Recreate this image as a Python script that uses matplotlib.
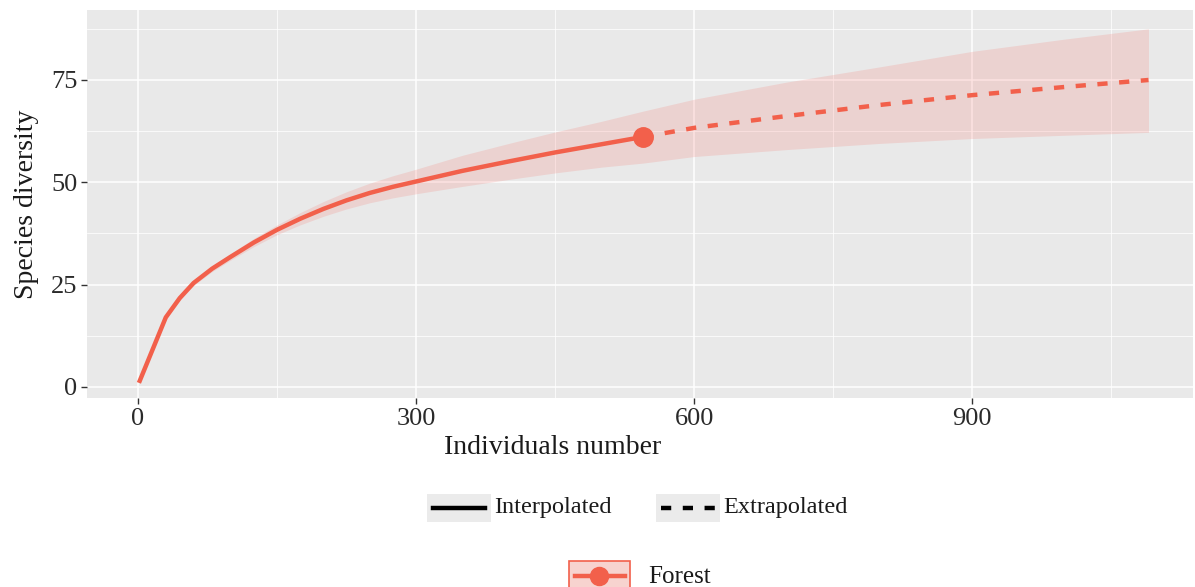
import matplotlib
matplotlib.use("Agg")
import matplotlib.pyplot as plt
from matplotlib.patches import Rectangle
from matplotlib.lines import Line2D

plt.rcParams['font.family'] = ['Liberation Serif', 'DejaVu Serif']

# ---- data ----
interp_x = [1, 30, 45, 60, 80, 100, 125, 150, 175, 200, 225, 250, 275, 300,
            350, 400, 450, 500, 545]
interp_y = [1, 17, 21.7, 25.4, 28.9, 31.8, 35.3, 38.4, 41.1, 43.5, 45.6, 47.4,
            48.9, 50.2, 52.8, 55.1, 57.3, 59.3, 61.1]
interp_lo = [1, 16.6, 21.2, 24.8, 28.2, 31.0, 34.3, 37.2, 39.6, 41.7, 43.5, 45.0,
             46.2, 47.2, 49.0, 50.7, 52.3, 53.7, 54.7]
interp_hi = [1, 17.4, 22.2, 26.0, 29.6, 32.6, 36.3, 39.6, 42.6, 45.3, 47.7, 49.8,
             51.6, 53.2, 56.6, 59.5, 62.3, 64.9, 67.4]

extrap_x = [545, 600, 700, 800, 900, 1000, 1090]
extrap_y = [61.1, 63.3, 66.2, 68.9, 71.3, 73.3, 75.0]
extrap_lo = [54.7, 56.3, 58.0, 59.5, 60.7, 61.5, 62.2]
extrap_hi = [67.4, 70.3, 74.5, 78.2, 82.0, 85.0, 87.5]

obs_x = [545]
obs_y = [61.1]

x_ticks = [0, 300, 600, 900]
y_ticks = [0, 25, 50, 75]
x_minor = [150, 450, 750, 1050]
y_minor = [12.5, 37.5, 62.5, 87.5]

series_name = "Forest"
x_title = "Individuals number"
y_title = "Species diversity"

line_col = "#F2604B"
ribbon_col = "#F8766D"
panel_col = "#E9E9E9"

W, H = 1195, 587
fig = plt.figure(figsize=(W / 100, H / 100), dpi=100)
fig.patch.set_facecolor("white")

L, R, T, B = 87, 1193, 10, 398
ax = fig.add_axes([L / W, (H - B) / H, (R - L) / W, (B - T) / H])
ax.set_facecolor(panel_col)
for s in ax.spines.values():
    s.set_visible(False)

ax.set_xlim(-55, 1138)
ax.set_ylim(-2.7, 92.1)

ax.set_xticks(x_ticks)
ax.set_yticks(y_ticks)
ax.set_xticks(x_minor, minor=True)
ax.set_yticks(y_minor, minor=True)
ax.grid(which="major", color="white", linewidth=1.1)
ax.grid(which="minor", color="white", linewidth=0.55)
ax.set_axisbelow(True)
ax.tick_params(which="major", length=4, width=1, color="#333333",
               labelsize=19, labelcolor="#2a2a2a", pad=3)
ax.tick_params(which="minor", length=0)

# ribbon
ax.fill_between(interp_x + extrap_x[1:], interp_lo + extrap_lo[1:],
                interp_hi + extrap_hi[1:], color=ribbon_col, alpha=0.2,
                linewidth=0, zorder=2)
ax.plot(interp_x, interp_y, color=line_col, linewidth=3.2,
        solid_capstyle="butt", solid_joinstyle="round", zorder=3)
ax.plot(extrap_x, extrap_y, color=line_col, linewidth=3.2,
        dashes=(2.3, 2.6), zorder=3)
ax.plot(obs_x, obs_y, "o", color=line_col, markersize=14, zorder=4)

# axis titles (placed as in reference)
fig.text(553 / W, 1 - 447 / H, x_title, ha="center", va="center",
         fontsize=20, color="#1a1a1a")
fig.text(27 / W, 1 - 204 / H, y_title, ha="center", va="center",
         rotation=90, fontsize=20, color="#1a1a1a")

# ---- legends in pixel coordinates ----
lg = fig.add_axes([0, 0, 1, 1])
lg.set_xlim(0, W)
lg.set_ylim(H, 0)
lg.axis("off")
lg.patch.set_alpha(0)

lg.add_patch(Rectangle((427, 494), 64, 28, facecolor="#EBEBEB", edgecolor="none"))
lg.add_line(Line2D([433, 485], [508, 508], color="black", linewidth=3.2))
lg.text(494, 507, "Interpolated", fontsize=17.5, va="center", ha="left", color="#1a1a1a")

lg.add_patch(Rectangle((656, 494), 64, 28, facecolor="#EBEBEB", edgecolor="none"))
lg.add_line(Line2D([661, 717], [508, 508], color="black", linewidth=3.2,
                   dashes=(2.3, 2.6)))
lg.text(723, 507, "Extrapolated", fontsize=17.5, va="center", ha="left", color="#1a1a1a")

lg.add_patch(Rectangle((569, 561), 61, 30, facecolor="#F7D3CF", edgecolor=line_col,
                       linewidth=1.2))
lg.add_line(Line2D([575, 625], [576, 576], color=line_col, linewidth=3.2))
lg.add_line(Line2D([599.5], [576], marker="o", color=line_col, markersize=13))
lg.text(648, 577, series_name, fontsize=18, va="center", ha="left", color="#1a1a1a")

fig.savefig("out.png", dpi=100, facecolor="white")
